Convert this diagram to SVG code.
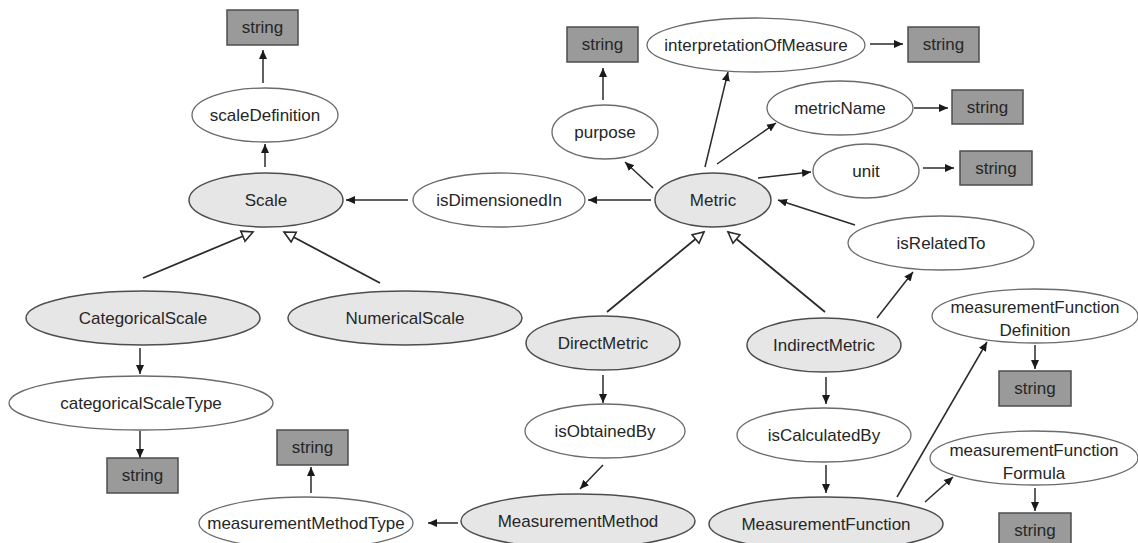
<svg xmlns="http://www.w3.org/2000/svg" width="1138" height="543" viewBox="0 0 1138 543">
  <style>
    .cls ellipse { fill: #e6e6e6; stroke: #4d4d4d; stroke-width: 1.5; }
    .prop ellipse { fill: #ffffff; stroke: #6b6b6b; stroke-width: 1.3; }
    .lit rect { fill: #9a9a9a; stroke: #4d4d4d; stroke-width: 1.5; }
    text { font-family: "Liberation Sans", Arial, sans-serif; font-size: 17px; fill: #262626; text-anchor: middle; }
    .edge { stroke: #2b2b2b; stroke-width: 1.5; fill: none; }
    .rel { marker-end: url(#arrow); }
    .isa { marker-end: url(#hollow); stroke-width: 1.8; }
  </style>
  <defs>
    <marker id="arrow" markerUnits="userSpaceOnUse" markerWidth="10" markerHeight="10" viewBox="0 0 10 10" refX="9" refY="5" orient="auto">
      <path d="M0,1 L9,5 L0,9 Z" fill="#1a1a1a"/>
    </marker>
    <marker id="hollow" markerUnits="userSpaceOnUse" markerWidth="14" markerHeight="14" viewBox="0 0 14 14" refX="12" refY="7" orient="auto">
      <path d="M1,1.5 L12,7 L1,12.5 Z" fill="#ffffff" stroke="#2b2b2b" stroke-width="1.6"/>
    </marker>
  </defs>

  <!-- connectors -->
  <g id="connectors">
    <line class="edge rel" x1="263" y1="83" x2="263" y2="50"/>
    <line class="edge rel" x1="265" y1="167" x2="265" y2="144"/>
    <line class="edge isa" x1="143" y1="278" x2="253" y2="232"/>
    <line class="edge isa" x1="380" y1="283" x2="284" y2="232"/>
    <line class="edge rel" x1="140" y1="348" x2="140" y2="374"/>
    <line class="edge rel" x1="140" y1="431" x2="140" y2="458"/>
    <line class="edge rel" x1="311" y1="493" x2="311" y2="467"/>
    <line class="edge rel" x1="458" y1="523" x2="428" y2="523"/>
    <line class="edge rel" x1="603" y1="375" x2="603" y2="403"/>
    <line class="edge rel" x1="603" y1="465" x2="580" y2="489"/>
    <line class="edge isa" x1="607" y1="312" x2="704" y2="232"/>
    <line class="edge isa" x1="825" y1="312" x2="728" y2="232"/>
    <line class="edge rel" x1="651" y1="200" x2="588" y2="200"/>
    <line class="edge rel" x1="408" y1="200" x2="346" y2="200"/>
    <line class="edge rel" x1="653" y1="188" x2="625" y2="162"/>
    <line class="edge rel" x1="603" y1="100" x2="603" y2="68"/>
    <line class="edge rel" x1="705" y1="167" x2="728" y2="72"/>
    <line class="edge rel" x1="870" y1="44" x2="903" y2="44"/>
    <line class="edge rel" x1="717" y1="164" x2="776" y2="123"/>
    <line class="edge rel" x1="914" y1="108" x2="948" y2="108"/>
    <line class="edge rel" x1="758" y1="178" x2="811" y2="172"/>
    <line class="edge rel" x1="923" y1="168" x2="954" y2="168"/>
    <line class="edge rel" x1="855" y1="225" x2="778" y2="200"/>
    <line class="edge rel" x1="877" y1="318" x2="913" y2="272"/>
    <line class="edge rel" x1="826" y1="377" x2="826" y2="404"/>
    <line class="edge rel" x1="826" y1="465" x2="826" y2="493"/>
    <line class="edge rel" x1="897" y1="497" x2="987" y2="342"/>
    <line class="edge rel" x1="925" y1="502" x2="953" y2="477"/>
    <line class="edge rel" x1="1035" y1="345" x2="1035" y2="369"/>
    <line class="edge rel" x1="1035" y1="488" x2="1035" y2="511"/>
  </g>

  <!-- literal boxes -->
  <g id="str-scaleDefinition" class="lit"><rect x="227" y="10" width="71" height="35"/><text x="262.5" y="33">string</text></g>
  <g id="str-purpose" class="lit"><rect x="567" y="27" width="71" height="35"/><text x="602.5" y="50">string</text></g>
  <g id="str-interpretation" class="lit"><rect x="908" y="27" width="71" height="35"/><text x="943.5" y="50">string</text></g>
  <g id="str-metricName" class="lit"><rect x="952" y="90" width="71" height="34"/><text x="987.5" y="113">string</text></g>
  <g id="str-unit" class="lit"><rect x="960" y="151" width="72" height="34"/><text x="996" y="174">string</text></g>
  <g id="str-categoricalScaleType" class="lit"><rect x="107" y="458" width="71" height="35"/><text x="142.5" y="481">string</text></g>
  <g id="str-measurementMethodType" class="lit"><rect x="277" y="430" width="71" height="35"/><text x="312.5" y="453">string</text></g>
  <g id="str-mfDefinition" class="lit"><rect x="999" y="371" width="72" height="35"/><text x="1035" y="394">string</text></g>
  <g id="str-mfFormula" class="lit"><rect x="999" y="513" width="72" height="35"/><text x="1035" y="536">string</text></g>

  <!-- classes -->
  <g id="Scale" class="cls"><ellipse cx="266" cy="200" rx="77" ry="27"/><text x="266" y="206">Scale</text></g>
  <g id="CategoricalScale" class="cls"><ellipse cx="143" cy="318" rx="117" ry="27"/><text x="143" y="324">CategoricalScale</text></g>
  <g id="NumericalScale" class="cls"><ellipse cx="405" cy="318" rx="117" ry="27"/><text x="405" y="324">NumericalScale</text></g>
  <g id="Metric" class="cls"><ellipse cx="713" cy="200" rx="58" ry="27"/><text x="713" y="206">Metric</text></g>
  <g id="DirectMetric" class="cls"><ellipse cx="603" cy="343" rx="77" ry="27"/><text x="603" y="349">DirectMetric</text></g>
  <g id="IndirectMetric" class="cls"><ellipse cx="824" cy="345" rx="77" ry="27"/><text x="824" y="351">IndirectMetric</text></g>
  <g id="MeasurementMethod" class="cls"><ellipse cx="578" cy="521" rx="117" ry="27"/><text x="578" y="527">MeasurementMethod</text></g>
  <g id="MeasurementFunction" class="cls"><ellipse cx="826" cy="524" rx="117" ry="27"/><text x="826" y="530">MeasurementFunction</text></g>

  <!-- properties -->
  <g id="scaleDefinition" class="prop"><ellipse cx="265" cy="115" rx="73" ry="27"/><text x="265" y="121">scaleDefinition</text></g>
  <g id="isDimensionedIn" class="prop"><ellipse cx="499" cy="200" rx="86" ry="27"/><text x="499" y="206">isDimensionedIn</text></g>
  <g id="purpose" class="prop"><ellipse cx="605" cy="132" rx="53" ry="27"/><text x="605" y="138">purpose</text></g>
  <g id="interpretationOfMeasure" class="prop"><ellipse cx="756" cy="45" rx="109" ry="27"/><text x="756" y="51">interpretationOfMeasure</text></g>
  <g id="metricName" class="prop"><ellipse cx="840" cy="108" rx="73" ry="27"/><text x="840" y="114">metricName</text></g>
  <g id="unit" class="prop"><ellipse cx="866" cy="171" rx="53" ry="27"/><text x="866" y="177">unit</text></g>
  <g id="isRelatedTo" class="prop"><ellipse cx="941" cy="243" rx="93" ry="27"/><text x="941" y="249">isRelatedTo</text></g>
  <g id="categoricalScaleType" class="prop"><ellipse cx="141" cy="403" rx="132" ry="27"/><text x="141" y="409">categoricalScaleType</text></g>
  <g id="isObtainedBy" class="prop"><ellipse cx="605" cy="431" rx="80" ry="27"/><text x="605" y="437">isObtainedBy</text></g>
  <g id="isCalculatedBy" class="prop"><ellipse cx="824" cy="435" rx="87" ry="27"/><text x="824" y="441">isCalculatedBy</text></g>
  <g id="measurementMethodType" class="prop"><ellipse cx="306" cy="523" rx="107" ry="26"/><text x="306" y="529">measurementMethodType</text></g>
  <g id="measurementFunctionDefinition" class="prop"><ellipse cx="1035" cy="316" rx="103" ry="27"/><text x="1035" y="313">measurementFunction</text><text x="1035" y="336">Definition</text></g>
  <g id="measurementFunctionFormula" class="prop"><ellipse cx="1034" cy="458" rx="104" ry="27"/><text x="1034" y="456">measurementFunction</text><text x="1034" y="479">Formula</text></g>
</svg>
